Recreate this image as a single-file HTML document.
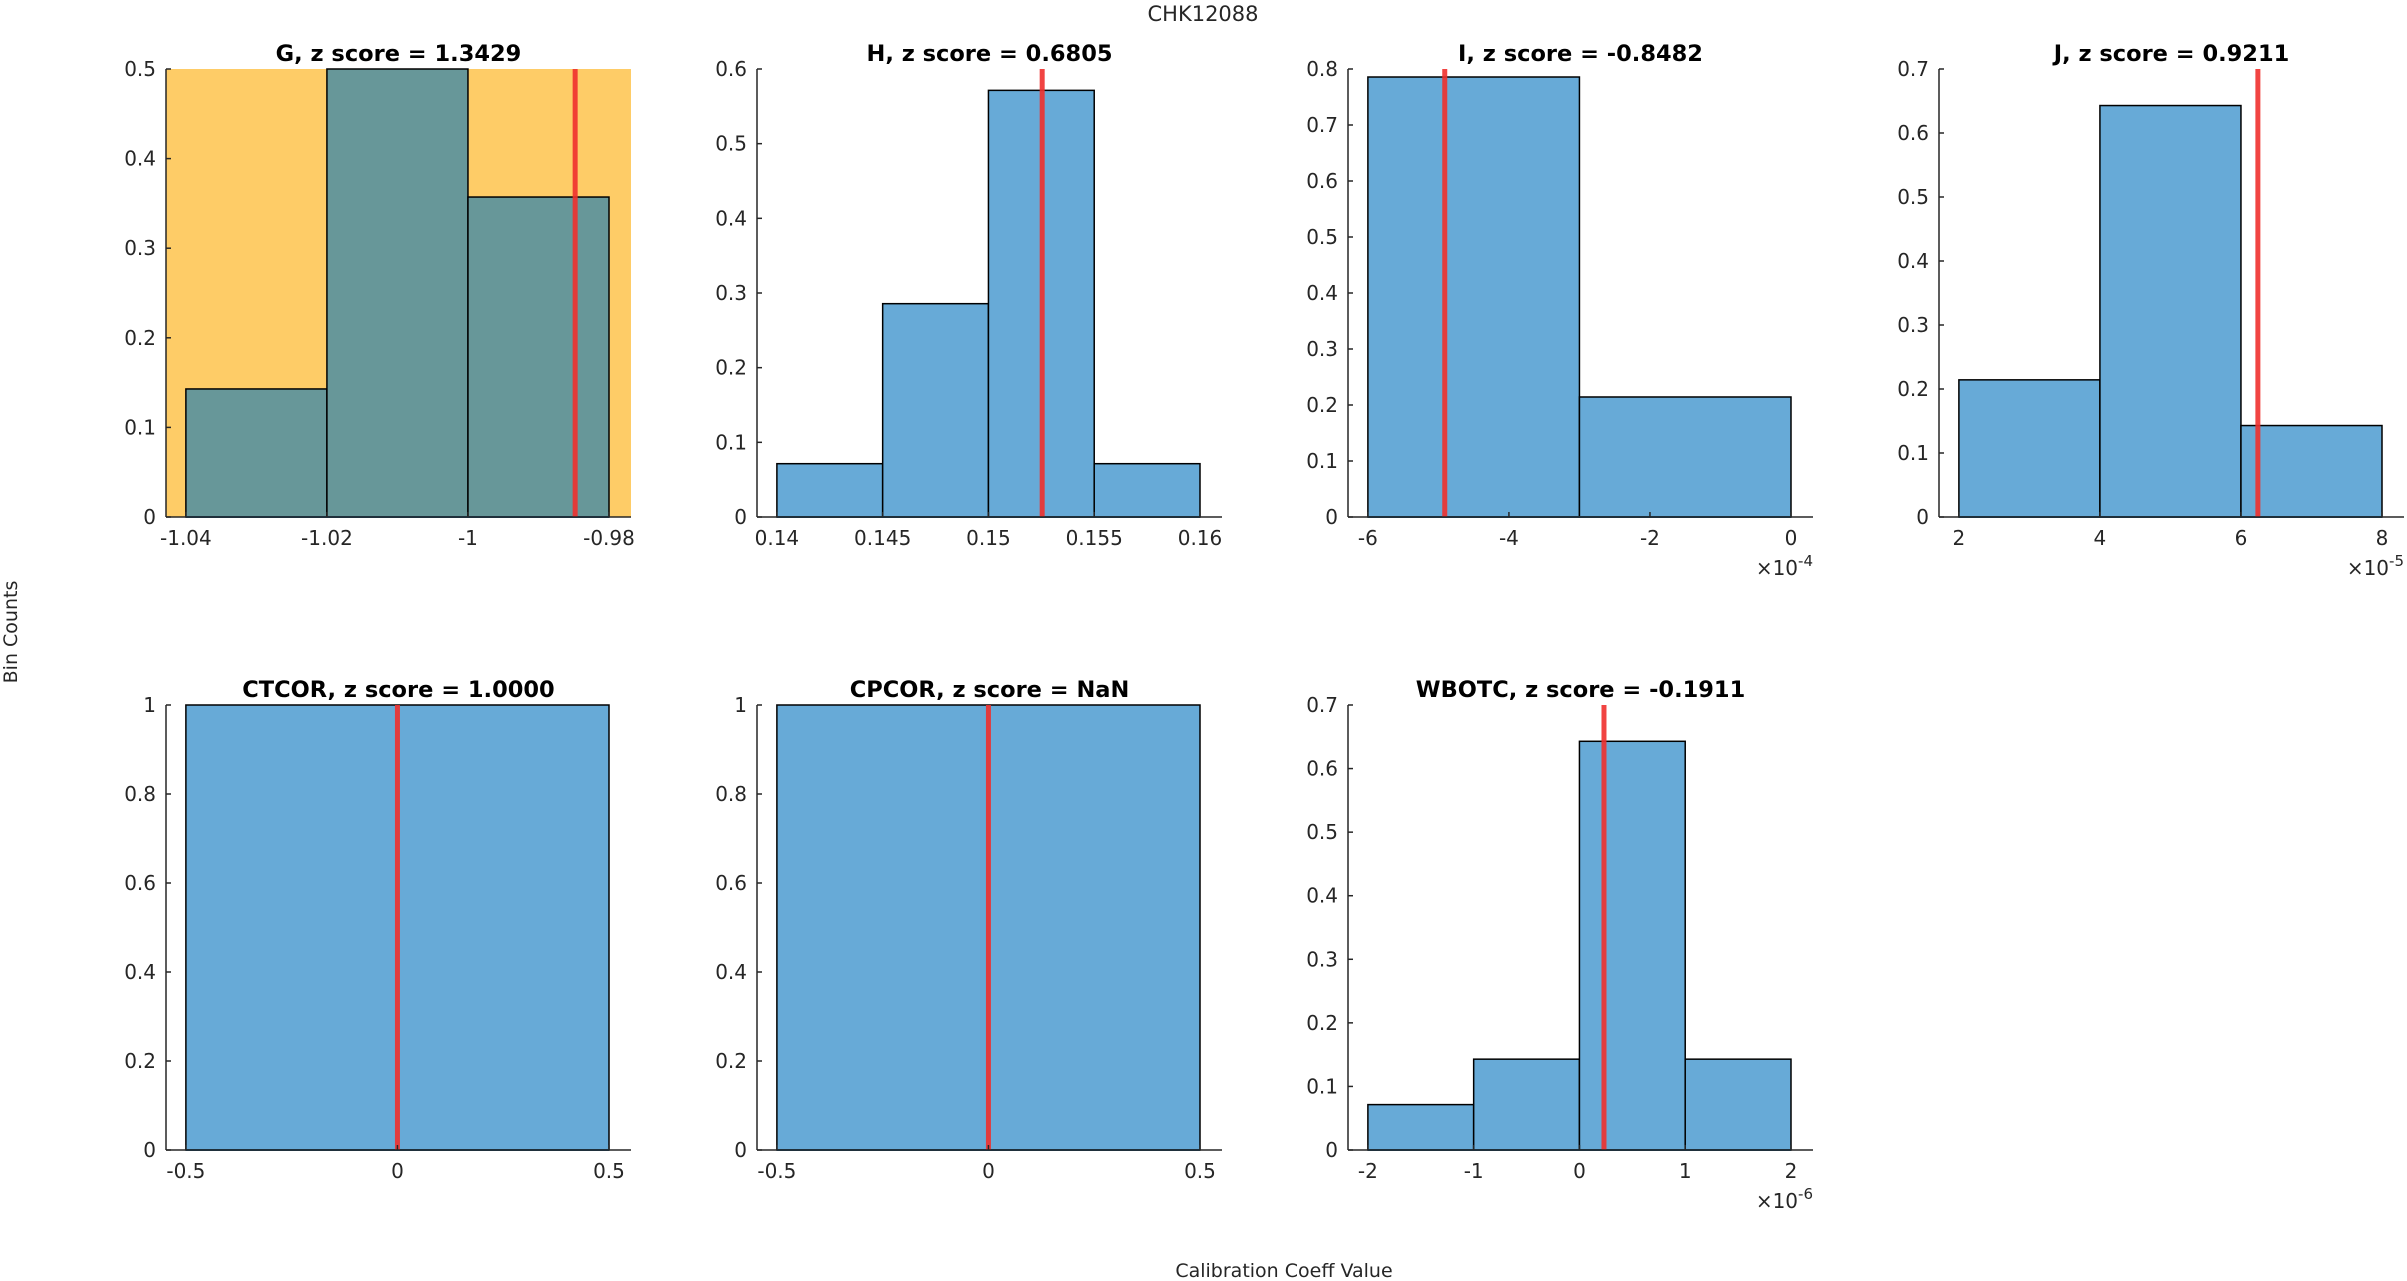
<!DOCTYPE html>
<html><head><meta charset="utf-8">
<style>
html,body{margin:0;padding:0;background:#fff;}
svg{display:block;font-family:"DejaVu Sans","Liberation Sans",sans-serif;}
</style></head>
<body>
<svg id="fig" width="2407" height="1281" viewBox="0 0 2407 1281" xmlns="http://www.w3.org/2000/svg">
<text x="1203" y="21" font-size="21" text-anchor="middle" fill="#262626">CHK12088</text>
<text transform="translate(17,632) rotate(-90)" font-size="19" text-anchor="middle" fill="#262626">Bin Counts</text>
<text x="1284" y="1277" font-size="19" text-anchor="middle" fill="#262626">Calibration Coeff Value</text>
</svg>
<script>
// ---- data ----
const panelNames = ["G","H","I","J","CTCOR","CPCOR","WBOTC"];
const panelTitles = ["G, z score = 1.3429","H, z score = 0.6805","I, z score = -0.8482","J, z score = 0.9211","CTCOR, z score = 1.0000","CPCOR, z score = NaN","WBOTC, z score = -0.1911"];
const binEdgesG = [-1.04,-1.02,-1.00,-0.98];
const binEdgesH = [0.14,0.145,0.15,0.155,0.16];
const binEdgesI = [-6,-3,0];
const binEdgesJ = [2,4,6,8];
const binEdgesCT = [-0.5,0.5];
const binEdgesCP = [-0.5,0.5];
const binEdgesW = [-2,-1,0,1,2];
const countsG = [0.1429,0.5,0.3571];
const countsH = [0.0714,0.2857,0.5714,0.0714];
const countsI = [0.7857,0.2143];
const countsJ = [0.2143,0.6429,0.1429];
const countsCT = [1];
const countsCP = [1];
const countsW = [0.0714,0.1429,0.6429,0.1429];
const markerValues = [-0.9848,0.15254,-4.91,6.24,0,0,0.232];
const xTicksG = [-1.04,-1.02,-1,-0.98];
const xTicksH = [0.14,0.145,0.15,0.155,0.16];
const xTicksI = [-6,-4,-2,0];
const xTicksJ = [2,4,6,8];
const xTicksCT = [-0.5,0,0.5];
const xTicksCP = [-0.5,0,0.5];
const xTicksW = [-2,-1,0,1,2];
const xTickLabelsG = ["-1.04","-1.02","-1","-0.98"];
const xTickLabelsH = ["0.14","0.145","0.15","0.155","0.16"];
const xTickLabelsI = ["-6","-4","-2","0"];
const xTickLabelsJ = ["2","4","6","8"];
const xTickLabelsCT = ["-0.5","0","0.5"];
const xTickLabelsCP = ["-0.5","0","0.5"];
const xTickLabelsW = ["-2","-1","0","1","2"];
const yMaxes = [0.5,0.6,0.8,0.7,1,1,0.7];
const yTickSteps = [0.1,0.1,0.1,0.1,0.2,0.2,0.1];
const exponents = ["","","-4","-5","","","-6"];

const edgesAll=[binEdgesG,binEdgesH,binEdgesI,binEdgesJ,binEdgesCT,binEdgesCP,binEdgesW];
const countsAll=[countsG,countsH,countsI,countsJ,countsCT,countsCP,countsW];
const ticksAll=[xTicksG,xTicksH,xTicksI,xTicksJ,xTicksCT,xTicksCP,xTicksW];
const tickLblAll=[xTickLabelsG,xTickLabelsH,xTickLabelsI,xTickLabelsJ,xTickLabelsCT,xTickLabelsCP,xTickLabelsW];

const NS="http://www.w3.org/2000/svg";
const svg=document.getElementById('fig');
function mk(tag,attrs,parent){const e=document.createElementNS(NS,tag);for(const k in attrs)e.setAttribute(k,attrs[k]);(parent||svg).appendChild(e);return e;}

const colLefts=[166,757,1348,1939];
const rowTops=[69,705], rowBots=[517,1150];
const axW=465;

panelNames.forEach((name,i)=>{
  const col=i%4,row=Math.floor(i/4);
  const L=colLefts[col],R=L+axW,T=rowTops[row],B=rowBots[row];
  const edges=edgesAll[i],counts=countsAll[i];
  const t=ticksAll[i];
  const span=t[t.length-1]-t[0];
  const xmin=t[0]-span*0.047,xmax=t[t.length-1]+span*0.052;
  const sx=v=>L+(v-xmin)/(xmax-xmin)*(R-L);
  const sy=v=>B-v/yMaxes[i]*(B-T);
  const g=mk('g',{});
  
  
  const highlighted=(name==="G");
  if(highlighted){
    const bg=mk('rect',{x:L,y:T,width:R-L,height:B-T,fill:'#FECC67'},g);
    
    
  }
  counts.forEach((c,k)=>{
    const x0=sx(edges[k]),x1=sx(edges[k+1]);
    const r=mk('rect',{x:x0,y:sy(c),width:x1-x0,height:B-sy(c),fill:highlighted?'#679799':'#67AAD7',stroke:'#000','stroke-width':1.5},g);
    
    
  });
  mk('line',{x1:sx(edges[0]),x2:sx(edges[edges.length-1]),y1:B,y2:B,stroke:'#0B4F7A','stroke-width':2},g);
  const mx=sx(markerValues[i]);
  const ml=mk('line',{x1:mx,x2:mx,y1:T,y2:B,stroke:'#F0302E','stroke-opacity':0.9,'stroke-width':5},g);
  
  
  mk('line',{x1:L,x2:L,y1:T,y2:B,stroke:'#262626','stroke-width':1.5},g);
  mk('line',{x1:L,x2:R,y1:B,y2:B,stroke:'#262626','stroke-width':1.5},g);
  const nY=Math.round(yMaxes[i]/yTickSteps[i]);
  for(let k=0;k<=nY;k++){
    const v=k*yTickSteps[i],y=sy(v);
    mk('line',{x1:L,x2:L+5,y1:y,y2:y,stroke:'#262626','stroke-width':1.5},g);
    const tx=mk('text',{x:L-10,y:y+7,'font-size':20,'text-anchor':'end',fill:'#262626'},g);
    tx.textContent=(Math.round(v*10)/10).toString();
    
    
  }
  t.forEach((v,k)=>{
    const x=sx(v);
    mk('line',{x1:x,x2:x,y1:B,y2:B-5,stroke:'#262626','stroke-width':1.5},g);
    const tx=mk('text',{x:x,y:B+28,'font-size':20,'text-anchor':'middle',fill:'#262626'},g);
    tx.textContent=tickLblAll[i][k];
    
    
  });
  if(exponents[i]){
    const ex=mk('text',{x:R,y:B+58,'font-size':20,'text-anchor':'end',fill:'#262626'},g);
    ex.innerHTML='×10<tspan dy="-9" font-size="15">'+exponents[i]+'</tspan>';
    
    
  }
  const tt=mk('text',{x:(L+R)/2,y:T-8,'font-size':22.5,'font-weight':'bold','text-anchor':'middle',fill:'#000'},g);
  tt.textContent=panelTitles[i];
  
  
});
</script>
</body></html>
